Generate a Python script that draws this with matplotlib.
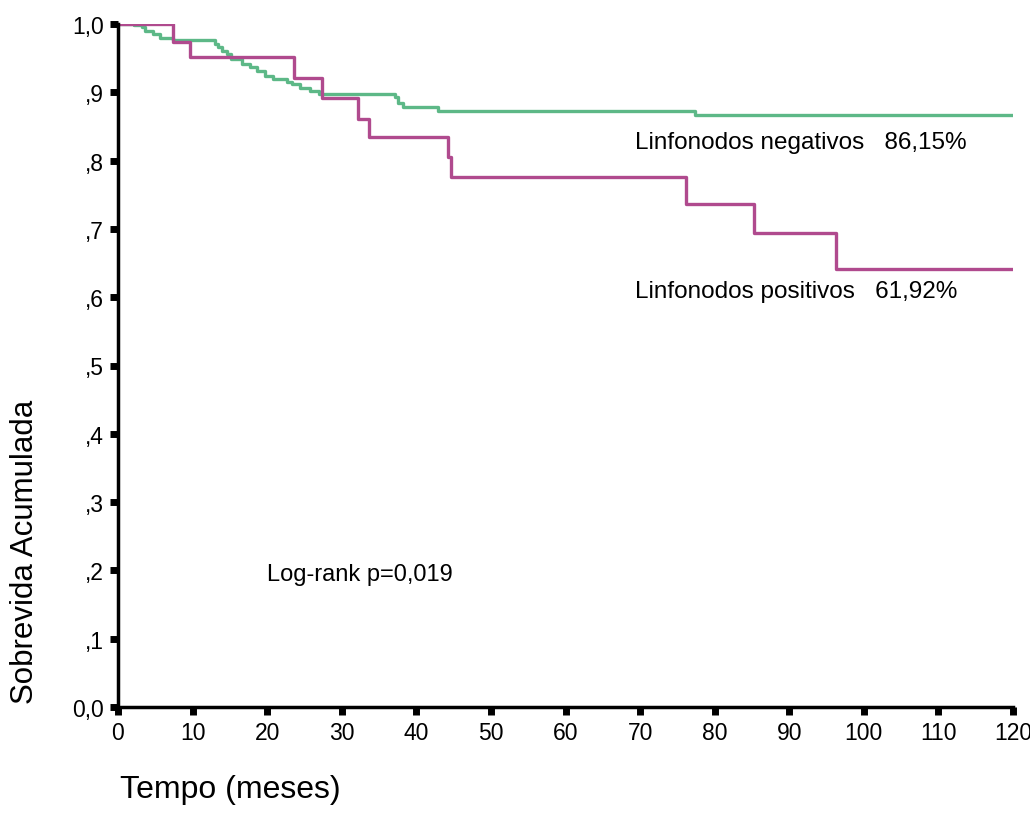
import numpy as np
import matplotlib.pyplot as plt

plt.rcParams['font.family'] = ['Liberation Sans', 'DejaVu Sans']

# Kaplan-Meier curves (time in months, cumulative survival)
neg_t = [0, 2.1, 3.2, 3.6, 4.7, 5.6, 7.4, 13.0, 13.4, 13.9, 14.6, 15.2, 16.6, 17.7,
         18.6, 19.7, 20.8, 22.6, 23.3, 24.4, 25.7, 26.9, 37.1, 37.6, 38.2, 42.9, 77.3, 120]
neg_s = [1.0, 0.998, 0.995, 0.990, 0.985, 0.980, 0.976, 0.971, 0.966, 0.961, 0.956, 0.949,
         0.941, 0.937, 0.931, 0.924, 0.919, 0.915, 0.912, 0.907, 0.902, 0.898, 0.893, 0.885,
         0.878, 0.872, 0.867, 0.867]

pos_t = [0, 7.4, 9.6, 23.6, 27.3, 32.2, 33.6, 44.3, 44.7, 76.2, 85.3, 96.3, 120]
pos_s = [1.0, 0.974, 0.951, 0.921, 0.891, 0.861, 0.834, 0.805, 0.776, 0.736, 0.694, 0.641, 0.641]

x_ticks = list(range(0, 121, 10))
y_ticks = [0.0, 0.1, 0.2, 0.3, 0.4, 0.5, 0.6, 0.7, 0.8, 0.9, 1.0]
y_labels = ['0,0', ',1', ',2', ',3', ',4', ',5', ',6', ',7', ',8', ',9', '1,0']

green = '#5DB887'
pink = '#B04A8E'

fig = plt.figure(figsize=(10.3, 8.28), dpi=100)
ax = fig.add_axes([118 / 1030, 1 - 708 / 828, 895 / 1030, 683 / 828])

ax.step(neg_t, neg_s, where='post', color=green, lw=2.4)
ax.step(pos_t, pos_s, where='post', color=pink, lw=2.4)

ax.set_xlim(0, 120)
ax.set_ylim(0, 1.0)
ax.set_xticks(x_ticks)
ax.set_yticks(y_ticks)
ax.set_yticklabels(y_labels)

for s in ['top', 'right']:
    ax.spines[s].set_visible(False)
for s in ['left', 'bottom']:
    ax.spines[s].set_linewidth(2.5)
    ax.spines[s].set_color('black')
    ax.spines[s].set_capstyle('projecting')

ax.tick_params(axis='both', direction='out', length=6, width=5, labelsize=16.5, colors='black')
ax.tick_params(axis='x', pad=4)
ax.tick_params(axis='y', pad=4)

ax.text(0.578, 0.827, 'Linfonodos negativos   86,15%', transform=ax.transAxes,
        fontsize=17.5, va='center', ha='left')
ax.text(0.578, 0.609, 'Linfonodos positivos   61,92%', transform=ax.transAxes,
        fontsize=17.5, va='center', ha='left')
ax.text(0.166, 0.195, 'Log-rank p=0,019', transform=ax.transAxes,
        fontsize=17, va='center', ha='left')

fig.text(25 / 1030, 1 - 552 / 828, 'Sobrevida Acumulada', rotation=90,
         fontsize=22.5, va='center', ha='center')
fig.text(120 / 1030, 1 - 790 / 828, 'Tempo (meses)', fontsize=23, va='center', ha='left')

fig.savefig('out.png', dpi=100)
